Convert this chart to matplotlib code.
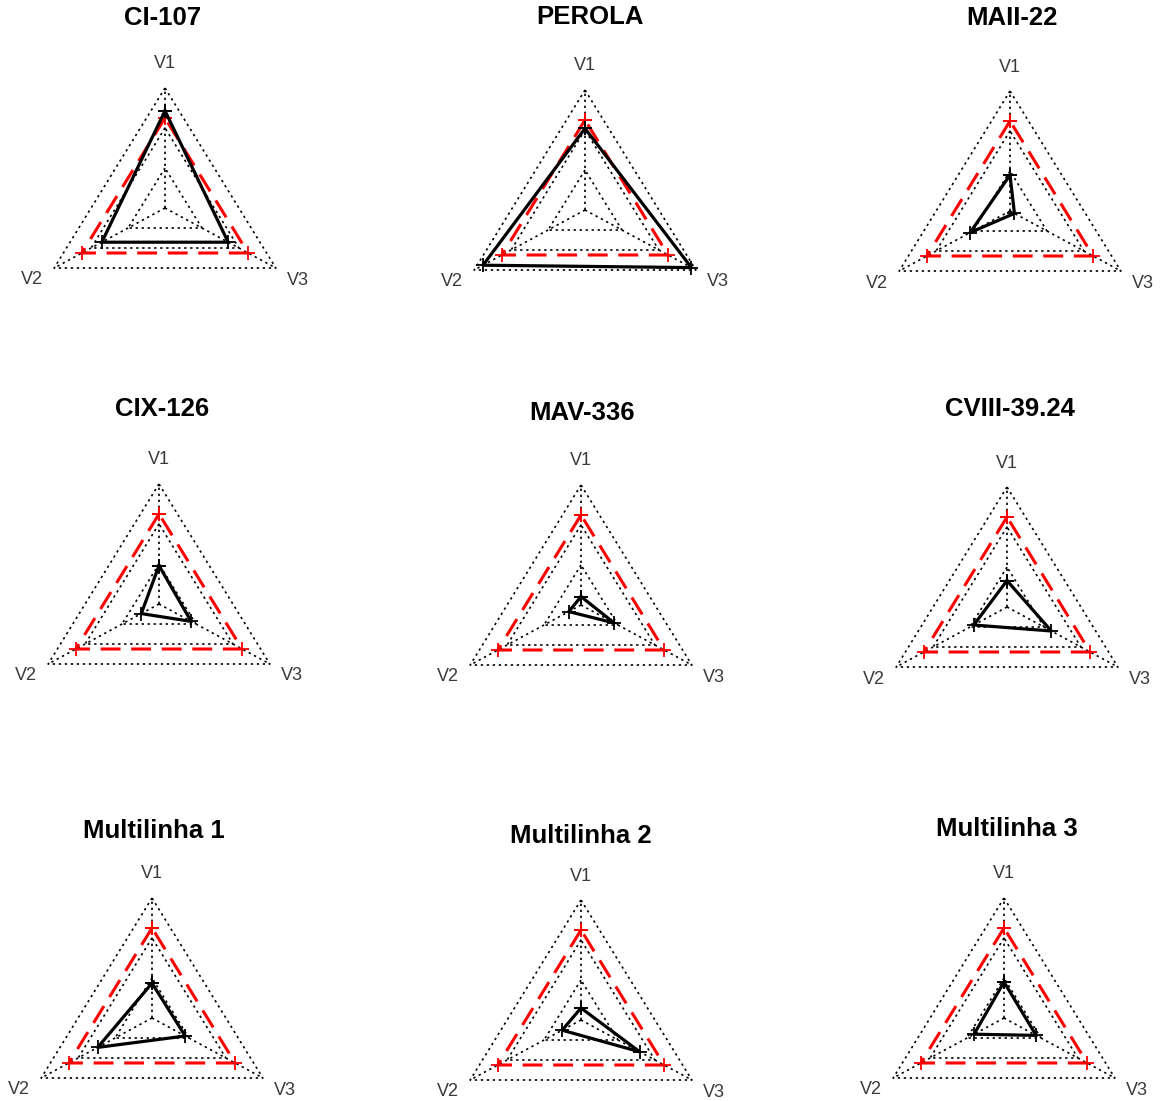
import matplotlib.pyplot as plt
import numpy as np

# scaled values (fraction of the outer ring)
genotypes = ["CI-107", "PEROLA", "MAII-22",
             "CIX-126", "MAV-336", "CVIII-39.24",
             "Multilinha 1", "Multilinha 2", "Multilinha 3"]
v1 = [0.81, 0.68, 0.30, 0.32, 0.07, 0.22, 0.29, 0.10, 0.30]
v2 = [0.57, 0.92, 0.36, 0.16, 0.11, 0.30, 0.49, 0.17, 0.27]
v3 = [0.57, 0.96, 0.04, 0.29, 0.30, 0.40, 0.30, 0.53, 0.29]
ref_v1 = [0.75] * 9
ref_v2 = [0.75] * 9
ref_v3 = [0.75] * 9
var_labels = ["V1", "V2", "V3"]
grid_levels = [1 / 3, 2 / 3, 1.0]

# layout, in pixels of the 1162x1101 picture
W, H = 1162, 1101
centers = [(165, 208), (585, 210), (1010, 211),
           (159, 604), (581, 605), (1007, 607),
           (152, 1018), (581, 1020), (1004, 1018)]
title_pos = [(163, 18), (590, 17), (1012, 18),
             (162, 409), (582, 413), (1010, 409),
             (154, 831), (581, 836), (1007, 829)]
RX, RY = 128, 120   # pixels per unit radius
SPAN = 1.35

ang = np.deg2rad([90, 210, 330])
cx, cy = np.cos(ang), np.sin(ang)

fig = plt.figure(figsize=(W / 100, H / 100), dpi=100)

for i, name in enumerate(genotypes):
    px, py = centers[i]
    w = 2 * SPAN * RX
    h = 2 * SPAN * RY
    ax = fig.add_axes([(px - w / 2) / W, 1 - (py + h / 2) / H, w / W, h / H])
    ax.set_xlim(-SPAN, SPAN)
    ax.set_ylim(-SPAN, SPAN)
    ax.axis("off")
    ax.patch.set_alpha(0)

    dot = dict(color="black", lw=1.2, ls=(0, (1.4, 2.2)))
    for lv in grid_levels:
        ax.plot(np.r_[cx, cx[0]] * lv, np.r_[cy, cy[0]] * lv, **dot)
    for k in range(3):
        ax.plot([0, cx[k]], [0, cy[k]], **dot)

    ref = np.array([ref_v1[i], ref_v2[i], ref_v3[i]])
    ax.plot(np.r_[ref * cx, ref[0] * cx[0]], np.r_[ref * cy, ref[0] * cy[0]],
            color="red", lw=2.2, ls=(0, (6.5, 3.5)),
            marker="+", ms=10, mew=1.3)

    val = np.array([v1[i], v2[i], v3[i]])
    ax.plot(np.r_[val * cx, val[0] * cx[0]], np.r_[val * cy, val[0] * cy[0]],
            color="black", lw=2.3, marker="+", ms=10, mew=1.3)

    for k in range(3):
        ax.text(1.2 * cx[k], 1.2 * cy[k], var_labels[k], ha="center", va="center",
                fontsize=13, color="#3a3a3a", family="Liberation Sans")

    tx, ty = title_pos[i]
    fig.text(tx / W, 1 - ty / H, name, ha="center", va="center",
             fontsize=18.5, fontweight="bold", family="Liberation Sans")

fig.savefig("out.png", dpi=100, facecolor="white")
